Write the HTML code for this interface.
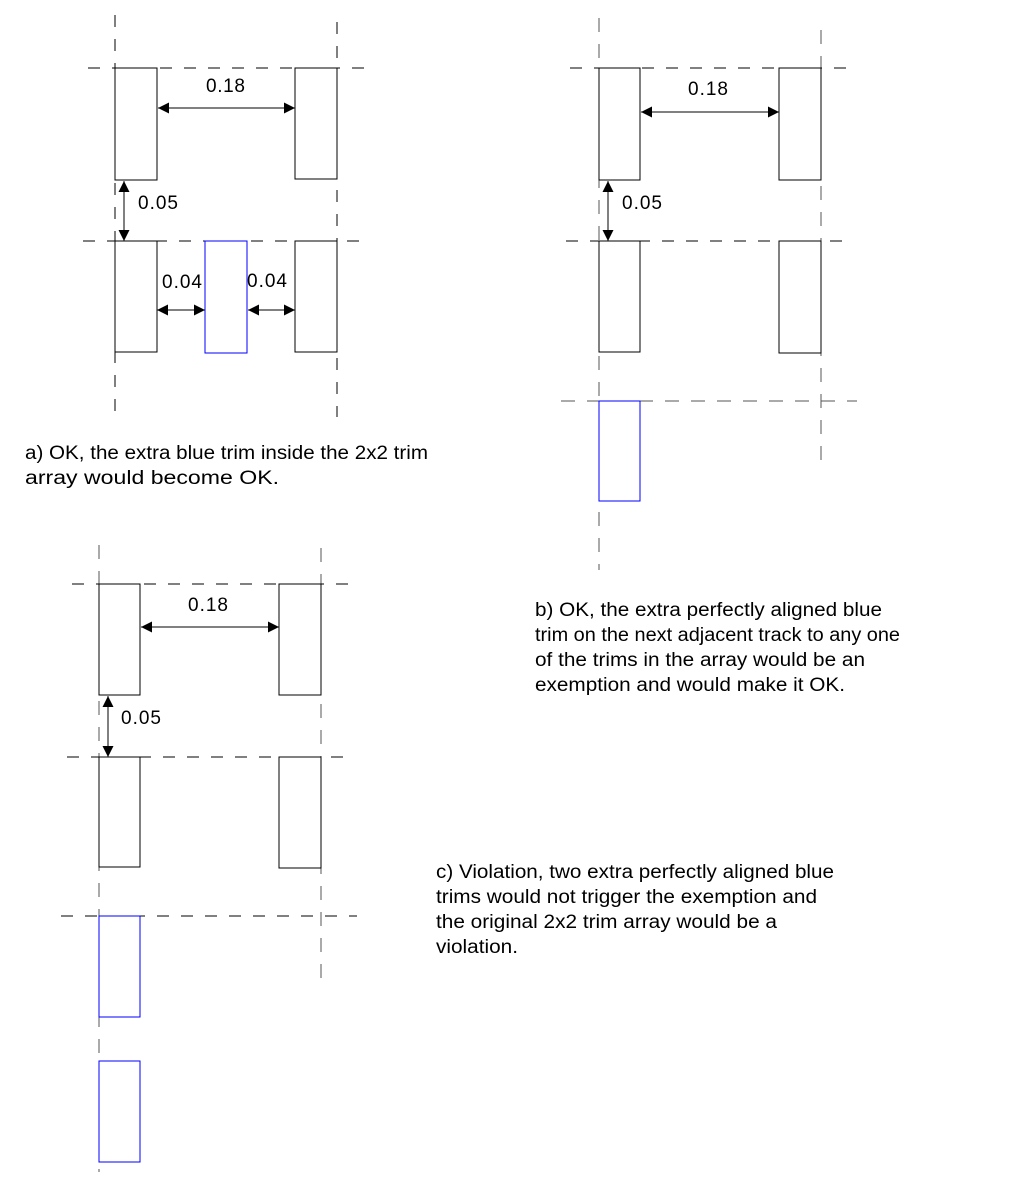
<!DOCTYPE html>
<html><head><meta charset="utf-8"><style>
body{margin:0;background:#fff}
svg text{font-family:"Liberation Sans",sans-serif;font-size:19px;fill:#000}
</style></head><body>
<svg width="1013" height="1194" viewBox="0 0 1013 1194" xmlns="http://www.w3.org/2000/svg">
<defs>
<marker id="ar" viewBox="0 0 10 10" refX="10" refY="5" markerWidth="11" markerHeight="11" markerUnits="userSpaceOnUse" orient="auto-start-reverse"><path d="M0,0L10,5L0,10z" fill="#000"/></marker>
</defs>
<g fill="none" stroke-width="1">
<g stroke="#000" stroke-dasharray="12,12">
<line x1="115" y1="15" x2="115" y2="417"/><line x1="337" y1="22" x2="337" y2="417"/>
<line x1="88" y1="68" x2="370" y2="68"/><line x1="83" y1="241" x2="368" y2="241"/>
</g>
<g stroke="#000">
<rect x="115" y="68" width="42" height="112"/><rect x="295" y="68" width="42" height="111"/>
<rect x="115" y="241" width="42" height="111"/><rect x="295" y="241" width="42" height="111"/>
</g>
<rect x="205" y="241" width="42" height="112" stroke="#00f"/>
<g stroke="#000" marker-start="url(#ar)" marker-end="url(#ar)">
<line x1="158" y1="108" x2="295" y2="108"/><line x1="124" y1="181" x2="124" y2="241"/>
<line x1="157" y1="310" x2="205" y2="310"/><line x1="248" y1="310" x2="295" y2="310"/>
</g>
<g stroke="#555" stroke-dasharray="14,12">
<line x1="599" y1="18" x2="599" y2="570"/><line x1="821" y1="30" x2="821" y2="472"/>
<line x1="561" y1="401" x2="857" y2="401"/>
</g>
<g stroke="#000" stroke-dasharray="12,12">
<line x1="570" y1="68" x2="853" y2="68"/><line x1="566" y1="241" x2="852" y2="241"/>
</g>
<g stroke="#000">
<rect x="599" y="68" width="41" height="112"/><rect x="779" y="68" width="42" height="112"/>
<rect x="599" y="241" width="41" height="111"/><rect x="779" y="241" width="42" height="112"/>
</g>
<rect x="599" y="401" width="41" height="100" stroke="#00f"/>
<g stroke="#000" marker-start="url(#ar)" marker-end="url(#ar)">
<line x1="641" y1="112" x2="779" y2="112"/><line x1="608" y1="181" x2="608" y2="241"/>
</g>
<g stroke="#555" stroke-dasharray="14,12">
<line x1="99" y1="545" x2="99" y2="1172"/><line x1="321" y1="548" x2="321" y2="988"/>
</g>
<g stroke="#000" stroke-dasharray="12,12">
<line x1="72" y1="584" x2="352" y2="584"/><line x1="67" y1="757" x2="352" y2="757"/>
<line x1="61" y1="916" x2="357" y2="916"/>
</g>
<g stroke="#000">
<rect x="99" y="584" width="41" height="111"/><rect x="279" y="584" width="42" height="111"/>
<rect x="99" y="757" width="41" height="110"/><rect x="279" y="757" width="42" height="111"/>
</g>
<g stroke="#00f"><rect x="99" y="916" width="41" height="101"/><rect x="99" y="1061" width="41" height="101"/></g>
<g stroke="#000" marker-start="url(#ar)" marker-end="url(#ar)">
<line x1="141" y1="627" x2="279" y2="627"/><line x1="108" y1="696" x2="108" y2="757"/>
</g>
</g>
<g lengthAdjust="spacingAndGlyphs">
<text x="206" y="92" textLength="39">0.18</text><text x="138" y="209" textLength="40">0.05</text>
<text x="162" y="288" textLength="40">0.04</text><text x="247" y="287" textLength="40">0.04</text>
<text x="688" y="95" textLength="40">0.18</text><text x="622" y="209" textLength="40">0.05</text>
<text x="188" y="611" textLength="40">0.18</text><text x="121" y="724" textLength="40">0.05</text>
<text x="25" y="459" textLength="403" lengthAdjust="spacingAndGlyphs">a) OK, the extra blue trim inside the 2x2 trim</text>
<text x="25" y="484" textLength="254" lengthAdjust="spacingAndGlyphs">array would become OK.</text>
<text x="535" y="616" textLength="347" lengthAdjust="spacingAndGlyphs">b) OK, the extra perfectly aligned blue</text>
<text x="535" y="641" textLength="365" lengthAdjust="spacingAndGlyphs">trim on the next adjacent track to any one</text>
<text x="535" y="666" textLength="330" lengthAdjust="spacingAndGlyphs">of the trims in the array would be an</text>
<text x="535" y="691" textLength="310" lengthAdjust="spacingAndGlyphs">exemption and would make it OK.</text>
<text x="436" y="878" textLength="398" lengthAdjust="spacingAndGlyphs">c) Violation, two extra perfectly aligned blue</text>
<text x="436" y="903" textLength="381" lengthAdjust="spacingAndGlyphs">trims would not trigger the exemption and</text>
<text x="436" y="928" textLength="341" lengthAdjust="spacingAndGlyphs">the original 2x2 trim array would be a</text>
<text x="436" y="953" textLength="82" lengthAdjust="spacingAndGlyphs">violation.</text>
</g>
</svg>
</body></html>
